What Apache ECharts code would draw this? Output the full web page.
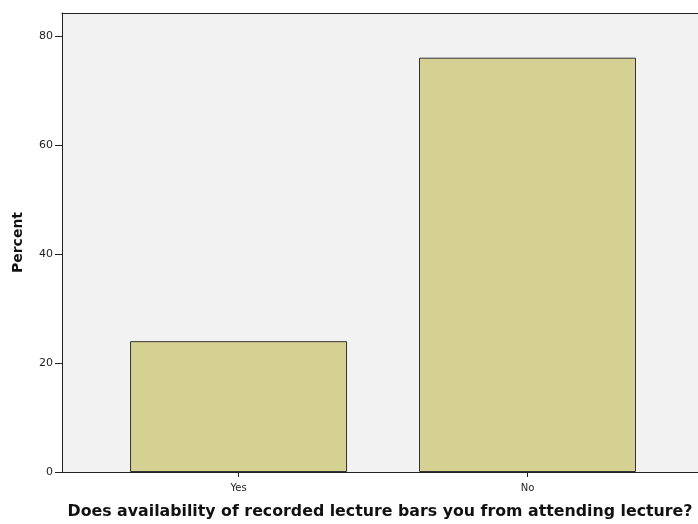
<!DOCTYPE html>
<html>
<head>
<meta charset="utf-8">
<script src="https://cdn.jsdelivr.net/npm/echarts@6/dist/echarts.min.js"></script>
<style>html,body{margin:0;padding:0;background:#fff;}#c{width:698px;height:524px;}</style>
</head>
<body>
<div id="c"></div>
<script>
const categories = ["Yes", "No"];
const percentValues = [24.0, 76.0];
const yTicks = [0, 20, 40, 60, 80];

const chart = echarts.init(document.getElementById('c'));
const positions = categories.map((c, i) => i);
chart.setOption({
  animation: false,
  backgroundColor: '#ffffff',
  grid: { left: 62, right: 0, top: 13, bottom: 52, show: true, backgroundColor: '#f2f2f2', borderWidth: 0, outerBoundsMode: 'none', containLabel: false },
  xAxis: [{
    type: 'value', min: -0.611, max: 1.59,
    name: 'Does availability of recorded lecture bars you from attending lecture?',
    nameLocation: 'middle', nameGap: 32,
    nameTextStyle: { fontFamily: 'DejaVu Sans', fontWeight: 'bold', fontSize: 15.8, color: '#111' },
    axisLine: { show: true, onZero: false, lineStyle: { color: '#222', width: 1 } },
    axisTick: { show: true, length: 5, lineStyle: { color: '#222' }, customValues: positions },
    axisLabel: { customValues: positions, formatter: v => categories[Math.round(v)], fontFamily: 'DejaVu Sans', fontSize: 10, color: '#222', margin: 11 },
    splitLine: { show: false }
  }, {
    type: 'value', min: -0.611, max: 1.59, position: 'top',
    axisLine: { show: true, onZero: false, lineStyle: { color: '#222', width: 1 } },
    axisTick: { show: false }, axisLabel: { show: false }, splitLine: { show: false }
  }],
  yAxis: {
    type: 'value', min: 0, max: 84.2,
    name: 'Percent', nameLocation: 'middle', nameGap: 37,
    nameTextStyle: { fontFamily: 'DejaVu Sans', fontWeight: 'bold', fontSize: 14, color: '#111' },
    axisLine: { show: true, onZero: false, lineStyle: { color: '#222', width: 1 } },
    axisTick: { show: true, length: 7, lineStyle: { color: '#222' }, customValues: yTicks },
    axisLabel: { customValues: yTicks, fontFamily: 'DejaVu Sans', fontSize: 11, color: '#222', margin: 9 },
    splitLine: { show: false }
  },
  series: [{
    type: 'bar', xAxisIndex: 0,
    data: positions.map((p, i) => [p, percentValues[i]]),
    barWidth: 217,
    itemStyle: { color: '#d5d192', borderColor: '#333', borderWidth: 1 }
  }]
});
</script>
</body>
</html>
